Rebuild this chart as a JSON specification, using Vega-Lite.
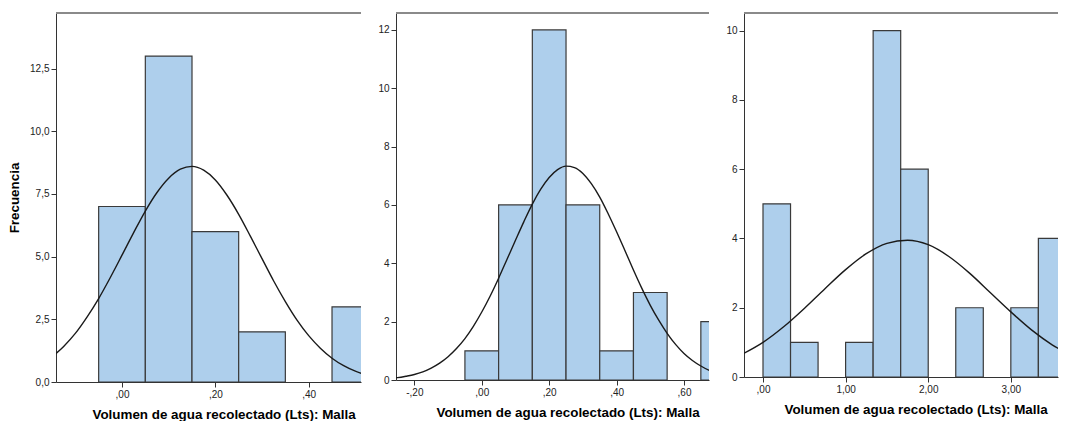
{
  "$schema": "https://vega.github.io/schema/vega-lite/v6.json",
  "padding": {"left": 7, "top": 12, "right": 0, "bottom": 0},
  "background": "white",
  "spacing": 35,
  "bounds": "flush",
  "config": {
    "view": {"stroke": null},
    "axis": {
      "grid": false,
      "labelFont": "Liberation Sans",
      "labelFontSize": 10,
      "labelColor": "#222222",
      "tickColor": "#333333",
      "tickSize": 5,
      "tickWidth": 1,
      "domainColor": "#333333",
      "domainWidth": 1,
      "labelPadding": 2,
      "titleFont": "Liberation Sans",
      "titleFontSize": 13.4,
      "titleFontWeight": "bold",
      "titleColor": "#000000"
    }
  },
  "datasets": {
    "b1": [
      {"desde": -0.05, "hasta": 0.05, "frecuencia": 7},
      {"desde": 0.05, "hasta": 0.15, "frecuencia": 13},
      {"desde": 0.15, "hasta": 0.25, "frecuencia": 6},
      {"desde": 0.25, "hasta": 0.35, "frecuencia": 2},
      {"desde": 0.45, "hasta": 0.55, "frecuencia": 3}
    ],
    "c1": [
      {"volumen": -0.15, "curva": 1.00}, {"volumen": -0.125, "curva": 1.42}, {"volumen": -0.1, "curva": 1.94},
      {"volumen": -0.075, "curva": 2.59}, {"volumen": -0.05, "curva": 3.33}, {"volumen": -0.025, "curva": 4.17},
      {"volumen": 0, "curva": 5.06}, {"volumen": 0.025, "curva": 5.96}, {"volumen": 0.05, "curva": 6.82},
      {"volumen": 0.075, "curva": 7.56}, {"volumen": 0.1, "curva": 8.13}, {"volumen": 0.125, "curva": 8.49},
      {"volumen": 0.15, "curva": 8.60}, {"volumen": 0.175, "curva": 8.45}, {"volumen": 0.2, "curva": 8.06},
      {"volumen": 0.225, "curva": 7.45}, {"volumen": 0.25, "curva": 6.69}, {"volumen": 0.275, "curva": 5.82},
      {"volumen": 0.3, "curva": 4.92}, {"volumen": 0.325, "curva": 4.03}, {"volumen": 0.35, "curva": 3.21},
      {"volumen": 0.375, "curva": 2.47}, {"volumen": 0.4, "curva": 1.85}, {"volumen": 0.425, "curva": 1.35},
      {"volumen": 0.45, "curva": 0.95}, {"volumen": 0.475, "curva": 0.65}, {"volumen": 0.5, "curva": 0.43},
      {"volumen": 0.525, "curva": 0.28}
    ],
    "b2": [
      {"desde": -0.05, "hasta": 0.05, "frecuencia": 1},
      {"desde": 0.05, "hasta": 0.15, "frecuencia": 6},
      {"desde": 0.15, "hasta": 0.25, "frecuencia": 12},
      {"desde": 0.25, "hasta": 0.35, "frecuencia": 6},
      {"desde": 0.35, "hasta": 0.45, "frecuencia": 1},
      {"desde": 0.45, "hasta": 0.55, "frecuencia": 3},
      {"desde": 0.65, "hasta": 0.75, "frecuencia": 2}
    ],
    "c2": [
      {"volumen": -0.275, "curva": 0.05}, {"volumen": -0.25, "curva": 0.08}, {"volumen": -0.225, "curva": 0.13},
      {"volumen": -0.2, "curva": 0.19}, {"volumen": -0.175, "curva": 0.28}, {"volumen": -0.15, "curva": 0.41},
      {"volumen": -0.125, "curva": 0.58}, {"volumen": -0.1, "curva": 0.80}, {"volumen": -0.075, "curva": 1.08},
      {"volumen": -0.05, "curva": 1.42}, {"volumen": -0.025, "curva": 1.84}, {"volumen": 0, "curva": 2.33},
      {"volumen": 0.025, "curva": 2.88}, {"volumen": 0.05, "curva": 3.49}, {"volumen": 0.075, "curva": 4.14},
      {"volumen": 0.1, "curva": 4.79}, {"volumen": 0.125, "curva": 5.43}, {"volumen": 0.15, "curva": 6.03},
      {"volumen": 0.175, "curva": 6.54}, {"volumen": 0.2, "curva": 6.94}, {"volumen": 0.225, "curva": 7.21},
      {"volumen": 0.25, "curva": 7.33}, {"volumen": 0.275, "curva": 7.28}, {"volumen": 0.3, "curva": 7.08},
      {"volumen": 0.325, "curva": 6.73}, {"volumen": 0.35, "curva": 6.27}, {"volumen": 0.375, "curva": 5.70},
      {"volumen": 0.4, "curva": 5.08}, {"volumen": 0.425, "curva": 4.43}, {"volumen": 0.45, "curva": 3.77},
      {"volumen": 0.475, "curva": 3.14}, {"volumen": 0.5, "curva": 2.56}, {"volumen": 0.525, "curva": 2.05},
      {"volumen": 0.55, "curva": 1.60}, {"volumen": 0.575, "curva": 1.22}, {"volumen": 0.6, "curva": 0.91},
      {"volumen": 0.625, "curva": 0.67}, {"volumen": 0.65, "curva": 0.48}, {"volumen": 0.675, "curva": 0.33},
      {"volumen": 0.7, "curva": 0.23}
    ],
    "b3": [
      {"desde": 0, "hasta": 0.3333, "frecuencia": 5},
      {"desde": 0.3333, "hasta": 0.6667, "frecuencia": 1},
      {"desde": 1.0, "hasta": 1.3333, "frecuencia": 1},
      {"desde": 1.3333, "hasta": 1.6667, "frecuencia": 10},
      {"desde": 1.6667, "hasta": 2.0, "frecuencia": 6},
      {"desde": 2.3333, "hasta": 2.6667, "frecuencia": 2},
      {"desde": 3.0, "hasta": 3.3333, "frecuencia": 2},
      {"desde": 3.3333, "hasta": 3.6667, "frecuencia": 4}
    ],
    "c3": [
      {"volumen": -0.25, "curva": 0.66}, {"volumen": 0, "curva": 1.00}, {"volumen": 0.25, "curva": 1.45},
      {"volumen": 0.5, "curva": 1.98}, {"volumen": 0.75, "curva": 2.55}, {"volumen": 1.0, "curva": 3.10},
      {"volumen": 1.25, "curva": 3.56}, {"volumen": 1.5, "curva": 3.86}, {"volumen": 1.75, "curva": 3.95},
      {"volumen": 2.0, "curva": 3.82}, {"volumen": 2.25, "curva": 3.48}, {"volumen": 2.5, "curva": 3.00},
      {"volumen": 2.75, "curva": 2.44}, {"volumen": 3.0, "curva": 1.88}, {"volumen": 3.25, "curva": 1.36},
      {"volumen": 3.5, "curva": 0.93}, {"volumen": 3.75, "curva": 0.60}
    ]
  },
  "hconcat": [
    {
      "width": 305,
      "height": 369,
      "layer": [
        {
          "data": {"name": "b1"},
          "mark": {"type": "bar", "fill": "#aecfec", "stroke": "#3a3a3a", "strokeWidth": 1.2, "clip": true},
          "encoding": {
            "x": {"field": "desde", "type": "quantitative",
              "scale": {"domain": [-0.1414, 0.5121], "nice": false, "zero": false},
              "axis": {"values": [0, 0.2, 0.4], "title": "Volumen de agua recolectado (Lts): Malla 30",
                "labelExpr": "replace(replace(replace(format(datum.value, '.2f'), '.', ','), regexp('^([^0-9]?)0,'), '$1,'), '−', '-')",
                "titleAnchor": "start", "titleAlign": "left", "titleX": 36, "titleY": 36.5, "titleBaseline": "alphabetic",
                "titleLimit": 270,
                "encoding": {"title": {"ellipsis": {"value": " "}}}}},
            "x2": {"field": "hasta"},
            "y": {"field": "frecuencia", "type": "quantitative",
              "scale": {"domain": [0, 14.72], "nice": false},
              "axis": {"values": [0, 2.5, 5, 7.5, 10, 12.5], "title": "Frecuencia",
                "labelExpr": "replace(format(datum.value, '.1f'), '.', ',')", "titlePadding": 8}},
            "y2": {"datum": 0}
          }
        },
        {
          "data": {"name": "c1"},
          "mark": {"type": "line", "color": "#1a1a1a", "strokeWidth": 1.4, "interpolate": "monotone", "clip": true},
          "encoding": {
            "x": {"field": "volumen", "type": "quantitative"},
            "y": {"field": "curva", "type": "quantitative"}
          }
        },
        {
          "data": {"values": [{}]},
          "mark": {"type": "rule", "color": "#8a8a8a", "strokeWidth": 2},
          "encoding": {"y": {"datum": 14.72, "type": "quantitative"}}
        }
      ]
    },
    {
      "width": 313,
      "height": 367,
      "layer": [
        {
          "data": {"name": "b2"},
          "mark": {"type": "bar", "fill": "#aecfec", "stroke": "#3a3a3a", "strokeWidth": 1.2, "clip": true},
          "encoding": {
            "x": {"field": "desde", "type": "quantitative",
              "scale": {"domain": [-0.2545, 0.6742], "nice": false, "zero": false},
              "axis": {"values": [-0.2, 0, 0.2, 0.4, 0.6], "title": "Volumen de agua recolectado (Lts): Malla 50",
                "labelExpr": "replace(replace(replace(format(datum.value, '.2f'), '.', ','), regexp('^([^0-9]?)0,'), '$1,'), '−', '-')",
                "titleAnchor": "start", "titleAlign": "left", "titleX": 40, "titleY": 36.5, "titleBaseline": "alphabetic",
                "titleLimit": 274,
                "encoding": {"title": {"ellipsis": {"value": " "}}}}},
            "x2": {"field": "hasta"},
            "y": {"field": "frecuencia", "type": "quantitative",
              "scale": {"domain": [0, 12.58], "nice": false},
              "axis": {"values": [0, 2, 4, 6, 8, 10, 12], "title": null}},
            "y2": {"datum": 0}
          }
        },
        {
          "data": {"name": "c2"},
          "mark": {"type": "line", "color": "#1a1a1a", "strokeWidth": 1.4, "interpolate": "monotone", "clip": true},
          "encoding": {
            "x": {"field": "volumen", "type": "quantitative"},
            "y": {"field": "curva", "type": "quantitative"}
          }
        },
        {
          "data": {"values": [{}]},
          "mark": {"type": "rule", "color": "#8a8a8a", "strokeWidth": 2},
          "encoding": {"y": {"datum": 12.58, "type": "quantitative"}}
        }
      ]
    },
    {
      "width": 314,
      "height": 364,
      "layer": [
        {
          "data": {"name": "b3"},
          "mark": {"type": "bar", "fill": "#aecfec", "stroke": "#3a3a3a", "strokeWidth": 1.2, "clip": true},
          "encoding": {
            "x": {"field": "desde", "type": "quantitative",
              "scale": {"domain": [-0.23, 3.571], "nice": false, "zero": false},
              "axis": {"values": [0, 1, 2, 3], "title": "Volumen de agua recolectado (Lts): Malla 80",
                "labelExpr": "replace(replace(replace(format(datum.value, '.2f'), '.', ','), regexp('^([^0-9]?)0,'), '$1,'), '−', '-')",
                "titleAnchor": "start", "titleAlign": "left", "titleX": 40, "titleY": 36.5, "titleBaseline": "alphabetic",
                "titleLimit": 275,
                "encoding": {"title": {"ellipsis": {"value": " "}}}}},
            "x2": {"field": "hasta"},
            "y": {"field": "frecuencia", "type": "quantitative",
              "scale": {"domain": [0, 10.51], "nice": false},
              "axis": {"values": [0, 2, 4, 6, 8, 10], "title": null}},
            "y2": {"datum": 0}
          }
        },
        {
          "data": {"name": "c3"},
          "mark": {"type": "line", "color": "#1a1a1a", "strokeWidth": 1.4, "interpolate": "monotone", "clip": true},
          "encoding": {
            "x": {"field": "volumen", "type": "quantitative"},
            "y": {"field": "curva", "type": "quantitative"}
          }
        },
        {
          "data": {"values": [{}]},
          "mark": {"type": "rule", "color": "#8a8a8a", "strokeWidth": 2},
          "encoding": {"y": {"datum": 10.51, "type": "quantitative"}}
        }
      ]
    }
  ]
}
